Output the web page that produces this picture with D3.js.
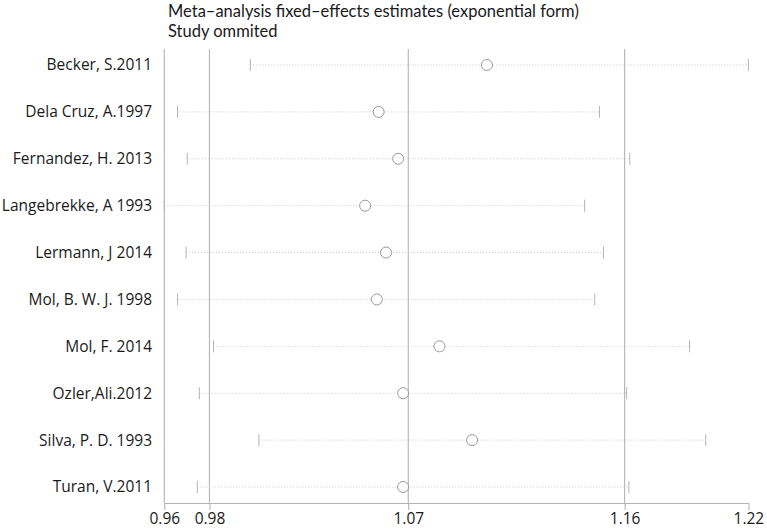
<!DOCTYPE html>
<html>
<head>
<meta charset="utf-8">
<script src="https://cdn.jsdelivr.net/npm/d3@7"></script>
<style>
  html, body { margin: 0; padding: 0; background: #fff; }
  svg text { font-family: "Open Sans", "Noto Sans", sans-serif; fill: #1a1a1a; }
  svg text.title { font-family: Lato, "Open Sans", sans-serif; }
</style>
</head>
<body>
<svg id="chart" width="767" height="529"></svg>
<script>
// ---- data ----
const studies = ["Becker, S.2011", "Dela Cruz, A.1997", "Fernandez, H. 2013", "Langebrekke, A 1993",
                 "Lermann, J 2014", "Mol, B. W. J. 1998", "Mol, F. 2014", "Ozler,Ali.2012",
                 "Silva, P. D. 1993", "Turan, V.2011"];
const lowerCI  = [0.9983, 0.9659, 0.9702, 0.9600, 0.9697, 0.9659, 0.9819, 0.9756, 1.0021, 0.9747];
const estimate = [1.1036, 1.0554, 1.0641, 1.0494, 1.0587, 1.0546, 1.0825, 1.0663, 1.0970, 1.0663];
const upperCI  = [1.2200, 1.1537, 1.1672, 1.1471, 1.1555, 1.1516, 1.1938, 1.1658, 1.2010, 1.1668];
// overall estimate and its CI (reference lines)
const refLines = [0.9801, 1.0686, 1.1649];
const tickValues = [0.9600, 0.9801, 1.0686, 1.1649, 1.2200];
const tickLabels = ["0.96", "0.98", "1.07", "1.16", "1.22"];
const titleLines = ["Meta\u2013analysis fixed\u2013effects estimates (exponential form)", "Study ommited"];

// ---- layout ----
const svg = d3.select("#chart");
const x = d3.scaleLinear().domain([0.96, 1.22]).range([164.3, 748.4]);
const y = d3.scalePoint().domain(studies).range([65, 487]);
const axisY = 503, topY = 49;
const grey = "#b4b4b4";

// title
svg.selectAll("text.title").data(titleLines).join("text")
  .attr("class", "title")
  .attr("x", 168).attr("y", (d, i) => 16.5 + i * 20)
  .attr("font-size", 16.5)
  .text(d => d);

// full-height vertical lines: left border at min and reference lines
const vlines = [x.domain()[0]].concat(refLines);
svg.selectAll("line.vline").data(vlines).join("line")
  .attr("class", "vline")
  .attr("x1", d => x(d)).attr("x2", d => x(d))
  .attr("y1", topY).attr("y2", axisY)
  .attr("stroke", grey).attr("stroke-width", 1.1);

// x axis
const axis = d3.axisBottom(x)
  .tickValues(tickValues)
  .tickFormat((d, i) => tickLabels[i])
  .tickSize(7).tickSizeOuter(0).tickPadding(3);
const gx = svg.append("g").attr("transform", `translate(0,${axisY})`).call(axis);
gx.select(".domain").attr("stroke", grey).attr("stroke-width", 1.1);
gx.selectAll(".tick line").attr("stroke", grey).attr("stroke-width", 1.1);
gx.selectAll(".tick text")
  .attr("font-family", "'Open Sans', 'Noto Sans', sans-serif")
  .attr("font-size", 15.5).attr("fill", "#1a1a1a");

// rows
const rows = studies.map((s, i) => ({ s, lo: lowerCI[i], est: estimate[i], hi: upperCI[i] }));
const g = svg.append("g");

// dotted CI lines
g.selectAll("line.ci").data(rows).join("line")
  .attr("class", "ci")
  .attr("x1", d => x(d.lo)).attr("x2", d => x(d.hi))
  .attr("y1", d => y(d.s)).attr("y2", d => y(d.s))
  .attr("stroke", "#c8c8c8").attr("stroke-width", 1)
  .attr("stroke-dasharray", "1,2");

// end caps
["lo", "hi"].forEach(k => {
  g.selectAll("line.cap-" + k).data(rows).join("line")
    .attr("class", "cap-" + k)
    .attr("x1", d => x(d[k])).attr("x2", d => x(d[k]))
    .attr("y1", d => y(d.s) - 6).attr("y2", d => y(d.s) + 6)
    .attr("stroke", grey).attr("stroke-width", 1);
});

// estimate circles
g.selectAll("circle.est").data(rows).join("circle")
  .attr("class", "est")
  .attr("cx", d => x(d.est)).attr("cy", d => y(d.s))
  .attr("r", 5.5)
  .attr("fill", "#fff").attr("stroke", "#9a9a9a").attr("stroke-width", 1);

// row labels
svg.selectAll("text.lab").data(studies).join("text")
  .attr("class", "lab")
  .attr("x", 152).attr("y", d => y(d))
  .attr("dy", "0.35em")
  .attr("text-anchor", "end")
  .attr("font-size", 15.5)
  .text(d => d);
</script>
</body>
</html>
